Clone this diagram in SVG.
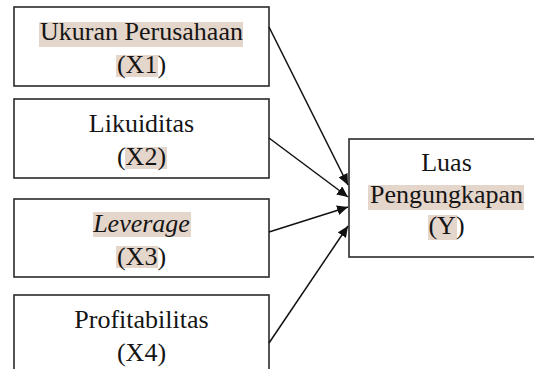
<svg xmlns="http://www.w3.org/2000/svg" width="534" height="369" viewBox="0 0 534 369">
<style>
.box{fill:#fff;stroke:#2a2a2a;stroke-width:1.6}
.t{font-family:"Liberation Serif","Times New Roman",serif;font-size:26px;fill:#151515;text-anchor:middle}
.hl{fill:#e5d6cc}
.c{stroke:#111;stroke-width:1.5;fill:none;marker-end:url(#ah)}
</style>
<defs>
<marker id="ah" markerUnits="userSpaceOnUse" markerWidth="11" markerHeight="10" refX="11" refY="5" orient="auto">
<path d="M0,0 L11,5 L0,10 z" fill="#111"/>
</marker>
</defs>
<rect width="534" height="369" fill="#fff"/>
<g id="x1">
<rect class="box" x="14" y="7" width="255" height="79"/>
<rect class="hl" x="39" y="22" width="204" height="25"/>
<rect class="hl" x="116" y="55" width="42" height="22"/>
<text class="t" x="141.5" y="40">Ukuran Perusahaan</text>
<text class="t" x="141.5" y="73">(X1)</text>
</g>
<g id="x2">
<rect class="box" x="14" y="99" width="255" height="79"/>
<rect class="hl" x="125" y="147" width="42" height="22"/>
<text class="t" x="141.5" y="132">Likuiditas</text>
<text class="t" x="141.5" y="165">(X2)</text>
</g>
<g id="x3">
<rect class="box" x="14" y="199" width="255" height="78"/>
<rect class="hl" x="93" y="212" width="98" height="25"/>
<rect class="hl" x="116" y="246" width="42" height="22"/>
<text class="t" x="141.5" y="232" font-style="italic">Leverage</text>
<text class="t" x="141.5" y="265">(X3)</text>
</g>
<g id="x4">
<rect class="box" x="14" y="295" width="255" height="80"/>
<text class="t" x="141.5" y="328">Profitabilitas</text>
<text class="t" x="141.5" y="361">(X4)</text>
</g>
<g id="y">
<rect class="box" x="349" y="139" width="200" height="118"/>
<rect class="hl" x="368" y="185" width="156" height="25"/>
<rect class="hl" x="428" y="215" width="29" height="25"/>
<text class="t" x="446.5" y="171">Luas</text>
<text class="t" x="446.5" y="203">Pengungkapan</text>
<text class="t" x="446.5" y="234">(Y)</text>
</g>
<g id="connectors">
<line class="c" x1="269" y1="27" x2="348" y2="185"/>
<line class="c" x1="269" y1="138" x2="348" y2="197"/>
<line class="c" x1="269" y1="232" x2="348" y2="207"/>
<line class="c" x1="269" y1="343" x2="348" y2="226"/>
</g>
</svg>
